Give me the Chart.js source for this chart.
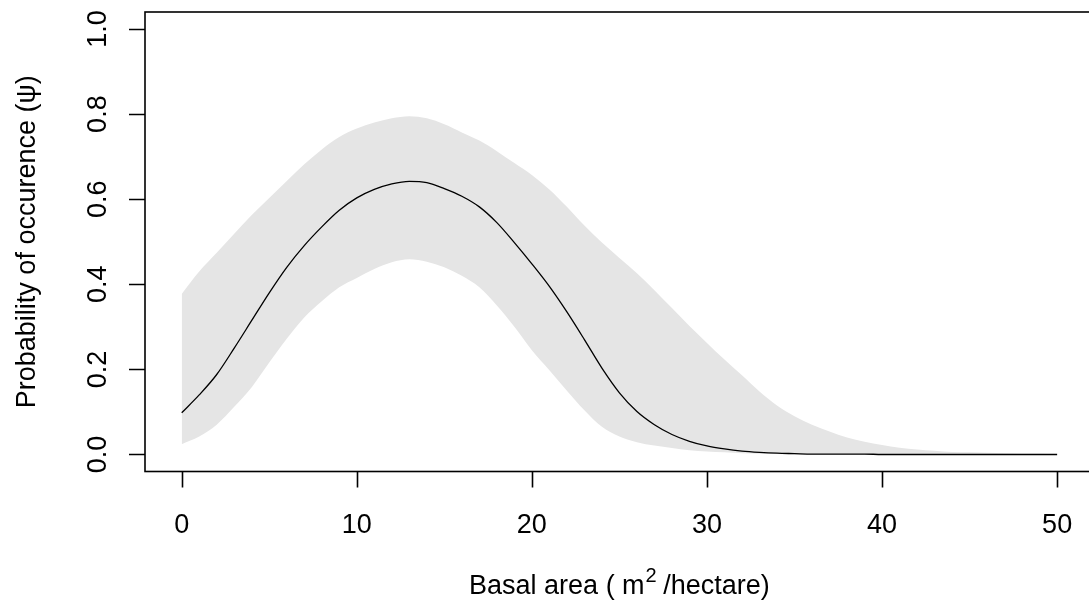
<!DOCTYPE html>
<html>
<head>
<meta charset="utf-8">
<script src="https://cdn.jsdelivr.net/npm/chart.js@4/dist/chart.umd.min.js"></script>
<style>
  html, body { margin: 0; padding: 0; background: #fff; }
  #wrap { width: 1089px; height: 605px; }
</style>
</head>
<body>
<div id="wrap"><canvas id="occ-chart" width="1089" height="605"></canvas></div>
<script>
// Basal area (m2/hectare) and predicted occupancy with its interval
const basalArea = [0, 1, 2, 3, 4, 5, 6, 7, 8, 9, 10, 11, 12, 13, 14, 15, 16, 17, 18, 19, 20,
    21, 22, 23, 24, 25, 26, 27, 28, 29, 30, 31, 32, 33, 34, 35, 36, 37, 38, 39, 40,
    41, 42, 43, 44, 45, 46, 47, 48, 49, 50];
const psiMean = [0.098, 0.140, 0.188, 0.250, 0.315, 0.380, 0.440, 0.491, 0.535, 0.574, 0.603,
    0.623, 0.636, 0.642, 0.639, 0.625, 0.607, 0.582, 0.545, 0.498, 0.448,
    0.395, 0.335, 0.270, 0.203, 0.145, 0.101, 0.070, 0.047, 0.031, 0.020,
    0.013, 0.008, 0.005, 0.003, 0.002, 0.001, 0.001, 0.001, 0.001, 0.000,
    0.000, 0.000, 0.000, 0.000, 0.000, 0.000, 0.000, 0.000, 0.000, 0.000];
const psiUpper = [0.377, 0.430, 0.474, 0.519, 0.563, 0.603, 0.643, 0.682, 0.717, 0.746, 0.766,
    0.780, 0.790, 0.795, 0.790, 0.776, 0.757, 0.738, 0.713, 0.685, 0.657,
    0.623, 0.582, 0.538, 0.498, 0.462, 0.426, 0.386, 0.344, 0.302, 0.262,
    0.223, 0.186, 0.148, 0.115, 0.090, 0.070, 0.054, 0.040, 0.030, 0.022,
    0.016, 0.012, 0.009, 0.006, 0.005, 0.004, 0.003, 0.002, 0.002, 0.001];
const psiLower = [0.024, 0.042, 0.070, 0.112, 0.158, 0.216, 0.272, 0.322, 0.360, 0.393, 0.415,
    0.436, 0.452, 0.459, 0.453, 0.440, 0.420, 0.393, 0.350, 0.300, 0.245,
    0.198, 0.150, 0.104, 0.065, 0.042, 0.029, 0.021, 0.015, 0.010, 0.007,
    0.005, 0.003, 0.002, 0.001, 0.000, 0.000, 0.000, 0.000, 0.000, 0.000,
    0.000, 0.000, 0.000, 0.000, 0.000, 0.000, 0.000, 0.000, 0.000, 0.000];
const xTicks = [0, 10, 20, 30, 40, 50];
const yTicks = [0, 0.2, 0.4, 0.6, 0.8, 1.0];
const yTickLabels = ['0.0', '0.2', '0.4', '0.6', '0.8', '1.0'];

const FONT = '"Liberation Sans", Arial, sans-serif';
const pts = arr => basalArea.map((x, i) => ({ x: x, y: arr[i] }));

// R-style frame, ticks and labels
const rAxes = {
    id: 'rAxes',
    afterDraw(chart) {
        const ctx = chart.ctx;
        const area = chart.chartArea;
        const xs = chart.scales.x, ys = chart.scales.y;
        ctx.save();
        ctx.strokeStyle = '#000';
        ctx.fillStyle = '#000';
        ctx.lineWidth = 1.6;
        // box (right side falls off the canvas)
        ctx.strokeRect(area.left, area.top, area.right + 10 - area.left, area.bottom - area.top);

        // x ticks
        ctx.beginPath();
        xTicks.forEach(v => {
            const px = Math.round(xs.getPixelForValue(v)) + 0.5;
            ctx.moveTo(px, area.bottom);
            ctx.lineTo(px, area.bottom + 16);
        });
        // y ticks
        yTicks.forEach(v => {
            const py = Math.round(ys.getPixelForValue(v)) + 0.5;
            ctx.moveTo(area.left, py);
            ctx.lineTo(area.left - 16, py);
        });
        ctx.stroke();

        ctx.font = '27px ' + FONT;
        ctx.textAlign = 'center';
        ctx.textBaseline = 'alphabetic';
        xTicks.forEach(v => {
            ctx.fillText(String(v), xs.getPixelForValue(v), 533);
        });
        yTicks.forEach((v, i) => {
            ctx.save();
            ctx.translate(106, ys.getPixelForValue(v));
            ctx.rotate(-Math.PI / 2);
            ctx.fillText(yTickLabels[i], 0, 0);
            ctx.restore();
        });

        // x title with superscript
        const p1 = 'Basal area ( m', p2 = '2', p3 = ' /hectare)';
        ctx.font = '27px ' + FONT;
        const w1 = ctx.measureText(p1).width, w3 = ctx.measureText(p3).width;
        ctx.font = '20px ' + FONT;
        const w2 = ctx.measureText(p2).width;
        let x0 = xs.getPixelForValue(25) - (w1 + w2 + w3) / 2;
        ctx.textAlign = 'left';
        ctx.font = '27px ' + FONT;
        ctx.fillText(p1, x0, 594);
        ctx.font = '20px ' + FONT;
        ctx.fillText(p2, x0 + w1 + 1, 582);
        ctx.font = '27px ' + FONT;
        ctx.fillText(p3, x0 + w1 + w2, 594);

        // y title
        ctx.save();
        ctx.translate(35, ys.getPixelForValue(0.5));
        ctx.rotate(-Math.PI / 2);
        ctx.textAlign = 'center';
        ctx.fillText('Probability of occurence (\u03C8)', 0, 0);
        ctx.restore();
        ctx.restore();
    }
};

new Chart(document.getElementById('occ-chart'), {
    type: 'line',
    data: {
        datasets: [
            {
                label: 'lower',
                data: pts(psiLower),
                borderColor: 'transparent',
                borderWidth: 0,
                pointRadius: 0,
                fill: false,
                cubicInterpolationMode: 'monotone',
                order: 2
            },
            {
                label: 'upper',
                data: pts(psiUpper),
                borderColor: 'transparent',
                borderWidth: 0,
                backgroundColor: '#e5e5e5',
                pointRadius: 0,
                fill: '-1',
                cubicInterpolationMode: 'monotone',
                order: 1
            },
            {
                label: 'psi',
                data: pts(psiMean),
                borderColor: '#000',
                borderWidth: 1.3,
                pointRadius: 0,
                fill: false,
                cubicInterpolationMode: 'monotone',
                order: 0
            }
        ]
    },
    options: {
        responsive: false,
        animation: false,
        events: [],
        layout: { padding: { left: 145, top: 12, right: 0, bottom: 133.5 } },
        plugins: { legend: { display: false }, tooltip: { enabled: false }, title: { display: false } },
        scales: {
            x: { type: 'linear', display: false, min: -2.096, max: 51.82 },
            y: { type: 'linear', display: false, min: -0.04, max: 1.04 }
        }
    },
    plugins: [rAxes]
});
</script>
</body>
</html>
